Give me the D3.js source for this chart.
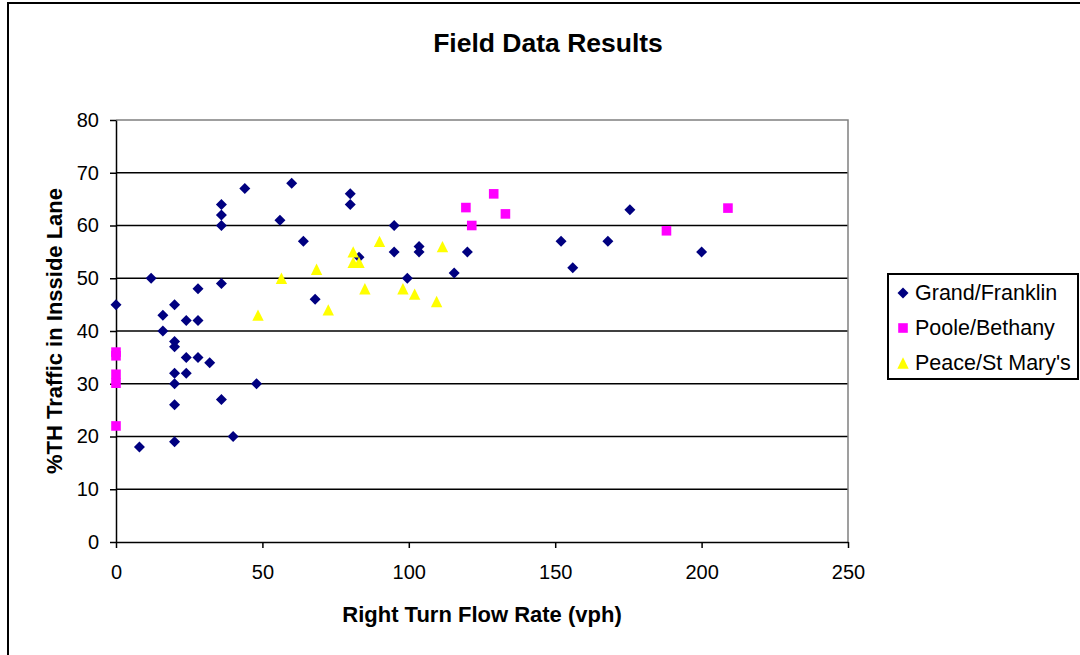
<!DOCTYPE html>
<html>
<head>
<meta charset="utf-8">
<script src="https://cdn.jsdelivr.net/npm/d3@7"></script>
<style>
  body { margin: 0; background: #fff; }
  svg { display: block; font-family: "Liberation Sans", Arial, sans-serif; }
</style>
</head>
<body>
<div class="chart"></div>
<script>
// series data: [flow rate (vph), %TH in inside lane]
var grandFranklin = [
  [0, 45], [8, 18], [12, 50], [16, 43], [16, 40], [20, 45], [20, 38], [20, 37],
  [20, 32], [20, 30], [20, 26], [20, 19], [24, 42], [24, 35], [24, 32], [28, 48],
  [28, 42], [28, 35], [32, 34], [36, 64], [36, 62], [36, 60], [36, 49], [36, 27],
  [40, 20], [44, 67], [48, 30], [56, 61], [60, 68], [64, 57], [68, 46], [80, 66],
  [80, 64], [83, 54], [95, 60], [95, 55], [99.5, 50], [103.5, 56], [103.5, 55],
  [115.5, 51], [120, 55], [152, 57], [156, 52], [168, 57], [175.5, 63], [200, 55]
];
var pooleBethany = [
  [0, 36], [0, 35.3], [0, 31.8], [0, 30.1], [0, 22],
  [119.5, 63.4], [121.5, 60], [129, 66], [133, 62.2], [188, 59], [209, 63.3]
];
var peaceStMary = [
  [48.5, 43], [56.5, 50], [68.5, 51.7], [72.5, 44], [81, 55], [81, 53], [83, 53],
  [85, 48], [90, 57], [98, 48], [102, 47], [109.5, 45.6], [111.5, 56]
];
var seriesNames = ["Grand/Franklin", "Poole/Bethany", "Peace/St Mary's"];
var xTicks = [0, 50, 100, 150, 200, 250];
var yTicks = [0, 10, 20, 30, 40, 50, 60, 70, 80];

const width = 1080, height = 655;
const plotLeft = 116, plotRight = 848, plotTop = 120, plotBottom = 542;

var svg = d3.select(".chart").append("svg")
  .attr("width", width)
  .attr("height", height);

//outer chart border (cut off at the right and bottom)
svg.append("rect")
  .attr("x", 8).attr("y", 3)
  .attr("width", width + 20).attr("height", height + 20)
  .attr("fill", "#fff")
  .attr("stroke", "#000")
  .attr("stroke-width", 2);

const x = d3.scaleLinear().domain([0, 250]).range([plotLeft, plotRight]);
const y = d3.scaleLinear().domain([0, 80]).range([plotBottom, plotTop]);

//gridlines
svg.append("g")
  .selectAll("line")
  .data(yTicks.filter((t) => t > 0 && t < 80))
  .join("line")
  .attr("x1", x(0)).attr("x2", x(250))
  .attr("y1", (d) => y(d)).attr("y2", (d) => y(d))
  .attr("stroke", "#000")
  .attr("stroke-width", 1.5);

//plot area border, grey on top and right
svg.append("path")
  .attr("d", "M" + x(0) + "," + y(80) + "H" + x(250) + "V" + y(0))
  .attr("fill", "none")
  .attr("stroke", "#808080")
  .attr("stroke-width", 1.5);

//axes
var xAxis = svg.append("g")
  .attr("transform", "translate(0," + y(0) + ")")
  .call(d3.axisBottom(x).tickValues(xTicks).tickSize(6).tickPadding(17).tickSizeOuter(0));
var yAxis = svg.append("g")
  .attr("transform", "translate(" + x(0) + ",0)")
  .call(d3.axisLeft(y).tickValues(yTicks).tickSize(6).tickPadding(11).tickSizeOuter(0));

[xAxis, yAxis].forEach((a) => {
  a.select(".domain").attr("stroke", "#000").attr("stroke-width", 1.5);
  a.selectAll(".tick line").attr("stroke", "#000").attr("stroke-width", 1.5);
  a.selectAll(".tick text")
    .attr("fill", "#000")
    .attr("font-family", "Liberation Sans, Arial, sans-serif")
    .attr("font-size", 20);
});

//marker shapes, excel style
const diamond = (s) => "M0," + -s + "L" + s + ",0L0," + s + "L" + -s + ",0Z";
const square = (s) => "M" + -s + "," + -s + "H" + s + "V" + s + "H" + -s + "Z";
const triangle = (s) => "M0," + -s + "L" + s + "," + s + "H" + -s + "Z";

var series = [
  { name: seriesNames[0], data: grandFranklin, color: "#000080", shape: diamond(5.5) },
  { name: seriesNames[1], data: pooleBethany, color: "#ff00ff", shape: square(4.8) },
  { name: seriesNames[2], data: peaceStMary, color: "#ffff00", shape: triangle(5.7) },
];

series.forEach((s) => {
  svg.append("g")
    .selectAll("path")
    .data(s.data)
    .join("path")
    .attr("d", s.shape)
    .attr("transform", (d) => "translate(" + x(d[0]) + "," + y(d[1]) + ")")
    .attr("fill", s.color);
});

//title and axis titles
svg.append("text")
  .attr("x", 548).attr("y", 52)
  .attr("text-anchor", "middle")
  .attr("font-size", 26.5)
  .attr("font-weight", "bold")
  .text("Field Data Results");

svg.append("text")
  .attr("x", (plotLeft + plotRight) / 2).attr("y", 622)
  .attr("text-anchor", "middle")
  .attr("font-size", 22)
  .attr("font-weight", "bold")
  .text("Right Turn Flow Rate (vph)");

svg.append("text")
  .attr("transform", "translate(62," + (plotTop + plotBottom) / 2 + ") rotate(-90)")
  .attr("text-anchor", "middle")
  .attr("font-size", 22)
  .attr("font-weight", "bold")
  .text("%TH Traffic in Insside Lane");

//legend
var legend = svg.append("g");
legend.append("rect")
  .attr("x", 888).attr("y", 274)
  .attr("width", 190).attr("height", 105)
  .attr("fill", "#fff")
  .attr("stroke", "#000")
  .attr("stroke-width", 2);

var j = 0;
series.forEach((s) => {
  var cy = 293 + j * 35;
  legend.append("path")
    .attr("d", s.shape)
    .attr("transform", "translate(903," + cy + ")")
    .attr("fill", s.color);
  legend.append("text")
    .attr("x", 915).attr("y", cy + 7)
    .attr("font-size", 21.5)
    .text(s.name);
  j++;
});
</script>
</body>
</html>
